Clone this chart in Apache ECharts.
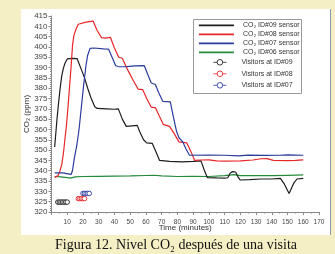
<!DOCTYPE html>
<html>
<head>
<meta charset="utf-8">
<script src="https://cdn.jsdelivr.net/npm/echarts@6/dist/echarts.min.js"></script>
<style>
  html, body { margin: 0; padding: 0; background: #f4efc4; }
  #chart { width: 335px; height: 254px; }
</style>
</head>
<body>
<div id="chart"></div>
<script>
// CO2 sensor readings, [minute, ppm]
const co2Id09 = [[2,351.5],[2.5,356],[3.5,365],[4.5,373],[5.5,380],[6.5,386],[7.5,389.5],[8.5,392],[10,394.2],[13,394.5],[16.3,394.3],[19,389],[21,385],[23,380],[25,375.5],[27.5,371],[29,370.2],[35,370],[40,369.8],[42.5,370],[45,365],[47.5,361.5],[54.5,362],[56,359],[58.5,355],[60.5,353.5],[64,353.3],[66.5,349],[68.7,345],[75,344.5],[83,344.3],[90,344.5],[95,344.8],[97,340.5],[99,336.7],[105,336.5],[110,336.4],[112,336.6],[113.5,338.8],[115,339.6],[117,339.4],[118.5,337],[120,335.5],[126,335.7],[133,336],[140,336],[145.5,336.3],[148,333.5],[151,329],[154,334],[156,336],[160,336.3]];
const co2Id08 = [[2,336.8],[4,337.5],[5,339],[6.5,343],[7.5,348],[8.5,355],[9.5,362],[10.5,371],[11.5,381],[12.5,391],[13.4,401],[14.2,405.5],[15.5,408.5],[17,411],[18,411.8],[22,412],[26.5,412.5],[29,408],[31.8,404.5],[34,404.3],[37.5,404.6],[40,399.5],[42.7,395],[45,394.5],[48,389.5],[51.8,384],[55,379.6],[58,379.3],[60.5,375],[63.4,370.8],[66.1,370.5],[68.5,366.5],[71,362.5],[75,361.5],[78,358],[81,354],[86,353.5],[88.5,349.5],[91,345],[95,345.2],[100,345.3],[105,344.8],[110,344.7],[120,344.8],[128,345.2],[133,345.8],[137,345.9],[141,345],[150,344.9],[155,345],[160,345.3]];
const co2Id07 = [[2,339],[7,339],[8,338.4],[12.5,338.2],[13.3,340],[14.5,346],[16,352],[17.5,360],[19,371],[20.5,382],[22,391.5],[23,396],[24.5,399.3],[27,399.5],[33,399.1],[36.3,398.9],[38.5,395],[40.8,390.9],[43,390.4],[48,390.5],[53,390.8],[59,390.9],[61.5,386],[63.4,382.5],[66,381.8],[68,378],[70.8,373.6],[75.5,373.4],[77.5,366],[79.5,359],[81,356],[83.4,354],[85.5,350.5],[87.7,347.5],[100,347.6],[110,347.5],[119,347.2],[125,347.6],[135,347.4],[145,347.5],[150,347.7],[160,347.5]];
const co2Id06 = [[2,337.2],[6,337],[10,336.7],[12,336.4],[15,337],[20,337.2],[30,337.3],[40,337.4],[50,337.5],[60,337.7],[65,337.8],[70,337.5],[80,337.2],[90,337.3],[100,337.2],[110,337.6],[116,338.1],[120,337.6],[130,337.7],[140,337.6],[150,337.8],[160,338]];

// visitor presence, [minute, marker level]
const visitId09 = [[4,324.8],[5,324.8],[6,324.8],[7,324.8],[8,324.8],[9,324.8],[10,324.8]];
const visitId08 = [[17,326.5],[18,326.5],[19,326.5],[20,326.5],[21,326.5]];
const visitId07 = [[20,329],[21,329],[22,329],[23,329],[24,329]];

const sensorNames = ['CO\u2082 ID#09 sensor', 'CO\u2082 ID#08 sensor', 'CO\u2082 ID#07 sensor', 'CO\u2082 ID#06 sensor'];
const visitorNames = ['Visitors at ID#09', 'Visitors at ID#08', 'Visitors at ID#07'];
const sensorColors = ['#1e1e1e', '#e8262a', '#2b3c9c', '#238a3a'];
const visitorColors = ['#1e1e1e', '#e8262a', '#2b3c9c'];

const chart = echarts.init(document.getElementById('chart'), null, { renderer: 'canvas' });

const sensorSeries = [co2Id09, co2Id08, co2Id07, co2Id06].map((d, i) => ({
    name: sensorNames[i],
    type: 'line',
    data: d,
    symbol: 'none',
    color: sensorColors[i],
    lineStyle: { width: 1.2, color: sensorColors[i] },
    z: i === 3 ? 2 : 3
}));

// hollow markers: white fill, coloured rim
const visitorSeries = [visitId09, visitId08, visitId07].map((d, i) => ({
    name: visitorNames[i],
    type: 'line',
    data: d,
    symbol: 'circle',
    symbolSize: 4.5,
    color: visitorColors[i],
    itemStyle: { color: '#ffffff', borderColor: visitorColors[i], borderWidth: 0.9 },
    lineStyle: { width: 0.8, color: visitorColors[i] },
    z: 4
}));

chart.setOption({
    backgroundColor: '#f4efc4',
    animation: false,
    textStyle: { fontFamily: 'Arial, "Liberation Sans", sans-serif' },
    grid: { left: 51.5, right: 16, top: 16, bottom: 42 },
    graphic: [
        { type: 'rect', z: -10, shape: { x: 21, y: 9, width: 309, height: 226 }, style: { fill: '#ffffff' } },
        { type: 'line', z: -9, shape: { x1: 330.5, y1: 9, x2: 330.5, y2: 235 }, style: { stroke: '#8797ad', lineWidth: 1 } },
        { type: 'rect', z: 3, shape: { x: 193.5, y: 19.5, width: 108, height: 74 }, style: { fill: '#ffffff', stroke: '#9a9a9a', lineWidth: 1 } },
        {
            type: 'text', z: 5,
            style: {
                x: 176, y: 245, text: 'Figura 12. Nivel CO\u2082 después de una visita',
                textAlign: 'center', textVerticalAlign: 'middle',
                font: '14px "Liberation Serif", "Times New Roman", serif', fill: '#111'
            }
        }
    ],
    legend: [
        {
            data: sensorNames,
            orient: 'vertical',
            left: 198, top: 21.8, padding: 0,
            itemWidth: 35, itemHeight: 7, itemGap: 2,
            itemStyle: { opacity: 0 },
            lineStyle: { width: 1.8 },
            textStyle: { fontSize: 7, lineHeight: 7, color: '#333', padding: [0, 0, 0, 4] },
            z: 6
        },
        {
            data: visitorNames,
            orient: 'vertical',
            left: 213, top: 58.8, padding: 0,
            itemWidth: 13, itemHeight: 7, itemGap: 4.5,
            itemStyle: { borderWidth: 0.9 },
            lineStyle: { width: 0.8 },
            textStyle: { fontSize: 7, lineHeight: 7, color: '#333', padding: [0, 0, 0, 10] },
            z: 6
        }
    ],
    xAxis: {
        type: 'value',
        min: 0, max: 170, interval: 10,
        name: 'Time (minutes)',
        nameLocation: 'middle', nameGap: 12, nameMoveOverlap: false,
        nameTextStyle: { fontSize: 8, color: '#333' },
        axisLine: { lineStyle: { color: '#888', width: 1 } },
        axisTick: { length: 3, lineStyle: { color: '#888' } },
        minorTick: { show: true, splitNumber: 2, length: 1.5, lineStyle: { color: '#888' } },
        axisLabel: { fontSize: 6.5, color: '#444', margin: 6.5, showMinLabel: false },
        splitLine: { show: false }
    },
    yAxis: {
        type: 'value',
        min: 320, max: 415, interval: 5,
        name: 'CO\u2082 (ppm)',
        nameLocation: 'middle', nameGap: 21, nameMoveOverlap: false,
        nameTextStyle: { fontSize: 8, color: '#333' },
        axisLine: { show: true, lineStyle: { color: '#888', width: 1 } },
        axisTick: { show: true, length: 3, lineStyle: { color: '#888' } },
        minorTick: { show: true, splitNumber: 5, length: 1.5, lineStyle: { color: '#888' } },
        axisLabel: { fontSize: 8, color: '#444', margin: 4 },
        splitLine: { show: false }
    },
    series: sensorSeries.concat(visitorSeries)
});
</script>
</body>
</html>
